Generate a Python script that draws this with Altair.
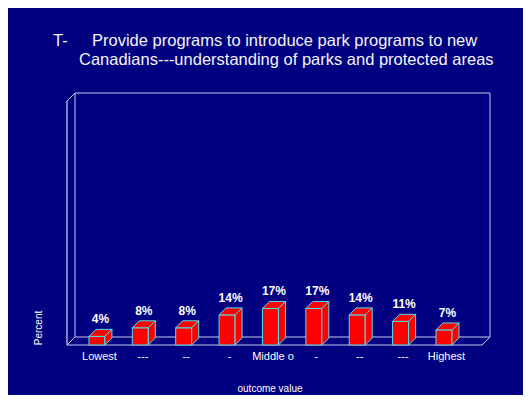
import altair as alt
import pandas as pd

# ---- data ----
categories = ["Lowest", "---", "--", "-", "Middle o", "-", "--", "---", "Highest"]
percent = [4, 8, 8, 14, 17, 17, 14, 11, 7]
title_prefix = "T-"
title_lines = [
    "Provide programs to introduce park programs to new",
    "Canadians---understanding of parks and protected areas",
]
x_title = "outcome value"
y_title = "Percent"

# ---- geometry / style ----
W, H = 423, 252
PX_X = 43.38          # pixels per category step
PX_Y = 2.15           # pixels per percent
X0 = -0.69
X_DOM = [X0, X0 + W / PX_X]
Y_DOM = [0, H / PX_Y]
HW = 8 / PX_X         # half bar width (data units)
DX = 7 / PX_X         # 3D depth, x
DY = 7 / PX_Y         # 3D depth, y
BG = "#000080"
RED = "#ff0000"
EDGE = "#50e0f0"
LINE = "#c8c8f0"
FONT = "Liberation Sans"

n = len(percent)
bars = pd.DataFrame({"i": list(range(n)), "cat": categories, "v": percent})
bars["label"] = [f"{v}%" for v in percent]
bars["xl"] = bars["i"] - HW
bars["xr"] = bars["i"] + HW
bars["lx"] = bars["i"] + DX / 2
bars["ly"] = bars["v"] + DY

top_rows, side_rows = [], []
for i, v in zip(range(n), percent):
    top_rows.append({"bar": i, "yy": v, "xl": i - HW, "xr": i + HW})
    top_rows.append({"bar": i, "yy": v + DY, "xl": i - HW + DX, "xr": i + HW + DX})
    side_rows.append({"bar": i, "xx": i + HW, "yt": v, "yb": 0})
    side_rows.append({"bar": i, "xx": i + HW + DX, "yt": v + DY, "yb": DY})
top_df = pd.DataFrame(top_rows)
side_df = pd.DataFrame(side_rows)

xs = alt.Scale(domain=X_DOM, nice=False, zero=False)
ys = alt.Scale(domain=Y_DOM, nice=False, zero=False)

one = pd.DataFrame({"a": [0]})


def rule(x, y, x2, y2, color=LINE):
    return alt.Chart(one).mark_rule(color=color, strokeWidth=1).encode(
        x=alt.value(x), y=alt.value(y), x2=alt.value(x2), y2=alt.value(y2)
    )


D = 8
frame = [
    rule(D, 0, W, 0),                 # back wall top
    rule(W, 0, W, H - D),             # back wall right
    rule(D, 0, D, H - D),             # back wall left
    rule(D, H - D, W, H - D),         # floor back
    rule(0, H, W - D, H),             # floor front
    rule(0, D, 0, H, "#ffffff"),      # front left vertical
    rule(0, D, D, 0),                 # top-left diagonal
    rule(0, H, D, H - D),             # bottom-left diagonal
    rule(W - D, H, W, H - D),         # bottom-right diagonal
]

front = alt.Chart(bars).mark_rect(color=RED, stroke=EDGE, strokeWidth=1).encode(
    x=alt.X("xl:Q", scale=xs, axis=None),
    x2="xr:Q",
    y=alt.Y("v:Q", scale=ys, axis=None),
    y2=alt.datum(0),
)

top = alt.Chart(top_df).mark_area(
    orient="horizontal", color=RED, stroke=EDGE, strokeWidth=1
).encode(
    y=alt.Y("yy:Q", scale=ys, axis=None),
    x=alt.X("xl:Q", scale=xs, axis=None, stack=None),
    x2="xr:Q",
    detail="bar:N",
)

side = alt.Chart(side_df).mark_area(
    orient="vertical", color=RED, stroke=EDGE, strokeWidth=1
).encode(
    x=alt.X("xx:Q", scale=xs, axis=None),
    y=alt.Y("yt:Q", scale=ys, axis=None, stack=None),
    y2="yb:Q",
    detail="bar:N",
)

labels = alt.Chart(bars).mark_text(
    color="white", font=FONT, fontSize=12, fontWeight="bold",
    baseline="alphabetic", dy=-6
).encode(
    x=alt.X("lx:Q", scale=xs, axis=None),
    y=alt.Y("ly:Q", scale=ys, axis=None),
    text="label:N",
)

cat_text = alt.Chart(bars).mark_text(
    color="white", font=FONT, fontSize=11, baseline="alphabetic", dx=2.5
).encode(
    x=alt.X("i:Q", scale=xs, axis=None),
    y=alt.value(H + 15),
    text="cat:N",
)

titles = pd.DataFrame({
    "t": [title_prefix, title_lines[0], title_lines[1]],
    "px": [-14, 25, 12],
    "py": [-47, -47, -28],
})
title_layers = [
    alt.Chart(one).mark_text(
        color="#f4f4f4", font=FONT, fontSize=16.5, align="left", baseline="alphabetic"
    ).encode(x=alt.value(px), y=alt.value(py), text=alt.value(t))
    for t, px, py in zip(titles["t"], titles["px"], titles["py"])
]

xt = alt.Chart(one).mark_text(
    color="white", font=FONT, fontSize=10, baseline="alphabetic"
).encode(x=alt.value(203), y=alt.value(299), text=alt.value(x_title))

yt = alt.Chart(one).mark_text(
    color="white", font=FONT, fontSize=10, baseline="middle", angle=270
).encode(x=alt.value(-28), y=alt.value(235), text=alt.value(y_title))

chart = alt.layer(
    *frame, front, top, side, labels, cat_text, *title_layers, xt, yt
).properties(
    width=W,
    height=H,
    autosize="none",
    padding={"left": 59, "top": 85, "right": 33, "bottom": 50},
    background=BG,
).configure_view(stroke=None)

chart.save("out.html", embed_options={"renderer": "svg", "actions": False})
